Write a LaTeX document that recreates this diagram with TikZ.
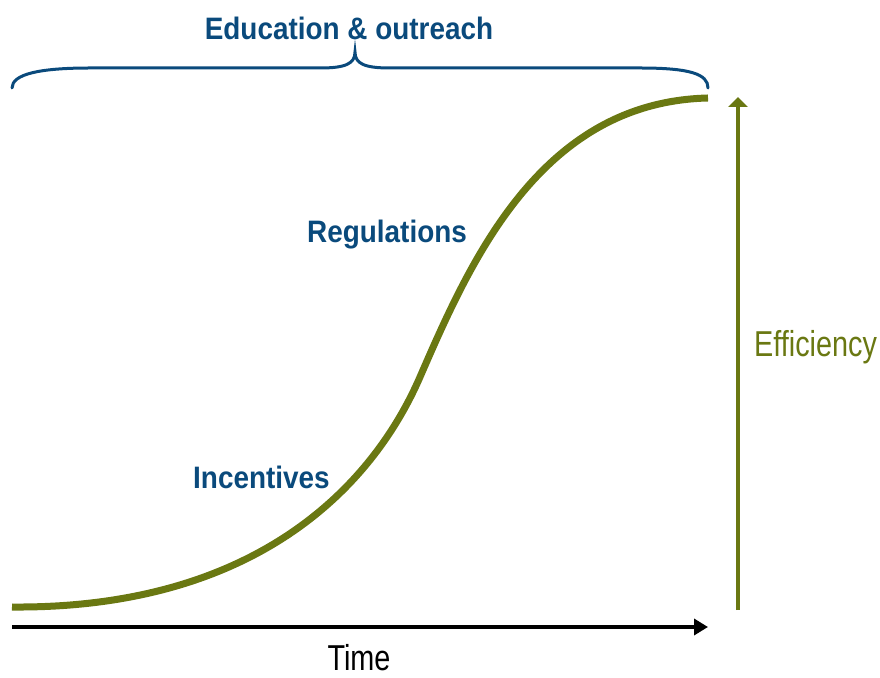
\documentclass[tikz,border=0pt]{standalone}
\usepackage{fontspec}
\setmainfont{Liberation Sans}
\newfontfamily\labfont{Liberation Sans}[FakeStretch=0.9]
\newfontfamily\axfont{Liberation Sans}[FakeStretch=0.8]
\usepackage{tikz}
\usetikzlibrary{arrows.meta}
\definecolor{navy}{HTML}{0A4A7C}
\definecolor{olive}{HTML}{6A7812}
\tikzset{
  axisT/.style={-{Triangle[length=14pt,width=16pt]}, line width=4pt, draw=black},
  axisE/.style={-{Triangle[length=10pt,width=19pt]}, line width=4pt, draw=olive},
  curveS/.style={line width=7pt, draw=olive},
  brace/.style={line width=3pt, draw=navy, line cap=round},
  lab/.style={text=navy, inner sep=0pt, font=\labfont\bfseries\fontsize{31}{36}\selectfont},
  labm/.style={inner sep=0pt, font=\axfont\fontsize{36}{40}\selectfont}
}

\begin{document}
\begin{tikzpicture}[x=1pt,y=1pt]
  \useasboundingbox (0,0) rectangle (880,677);

  % axes
  \coordinate (O) at (12,50);
  \coordinate (T) at (708,50);
  \coordinate (E0) at (738,67);
  \coordinate (E1) at (738,580);
  \draw[axisT] (O) -- (T);
  \draw[axisE] (E0) -- (E1);
  \node[labm, anchor=base] (time) at (359,7) {Time};
  \node[labm, text=olive, anchor=base west] (eff) at (754,320) {Efficiency};

  % S curve, two halves meeting at the inflection
  \coordinate (S0) at (12,70);
  \coordinate (S1) at (420,300);
  \coordinate (S2) at (708,579);
  \draw[curveS] (S0) .. controls (250,68) and (370,185) .. (S1)
    .. controls (470,415) and (540,575) .. (S2);

  % brace over the whole range
  \draw[brace] (12,589) .. controls (12,603) and (40,609) .. (90,609)
    -- (320,609) .. controls (345,609) and (355,613) .. (355,625)
    .. controls (355,613) and (365,609) .. (390,609)
    -- (640,609) .. controls (690,609) and (708,603) .. (708,589);

  \node[lab, anchor=base] (edu) at (349,637) {Education \& outreach};
  \node[lab, anchor=base west] (reg) at (307,434) {Regulations};
  \node[lab, anchor=base west] (inc) at (193,188) {Incentives};
\end{tikzpicture}
\end{document}
